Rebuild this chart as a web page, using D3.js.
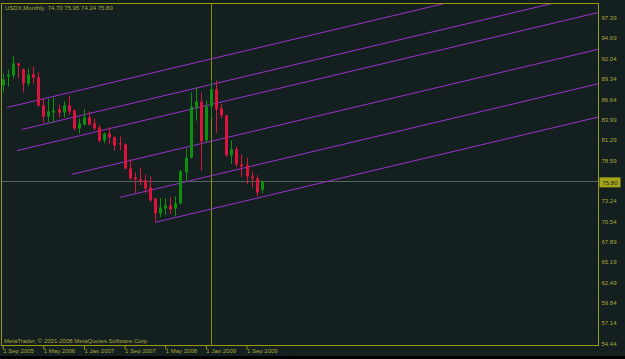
<!DOCTYPE html>
<html>
<head>
<meta charset="utf-8">
<script src="https://cdn.jsdelivr.net/npm/d3@7/dist/d3.min.js"></script>
<style>
  body { margin: 0; background: #000; }
  svg { display: block; }
  text { font-family: "Liberation Sans", Arial, sans-serif; }
</style>
</head>
<body>
<script>
// 常量
const width = 625;
const height = 359;
const plot = { left: 1.5, right: 598.5, top: 3.5, bottom: 345.5 };

// monthly bars, Sep 2005 .. Dec 2009
const open  = [88.44, 89.62, 89.75, 91.33, 90.54, 88.70, 89.88, 89.49, 85.80, 84.35, 84.88, 85.28,
               84.88, 85.80, 85.14, 82.77, 83.30, 84.22, 83.43, 82.91, 81.19, 82.11, 81.59, 80.80,
               80.67, 77.51, 76.32, 76.06, 75.93, 75.00, 73.56, 71.58, 72.24, 72.63, 72.24, 72.90,
               76.98, 78.95, 85.54, 86.33, 81.19, 85.67, 87.91, 85.41, 84.49, 79.22, 80.01, 78.03,
               77.90, 76.45, 76.19, 74.70];
const high  = [90.02, 90.54, 92.39, 91.40, 90.67, 90.67, 90.94, 90.15, 86.72, 86.72, 86.86, 85.93,
               86.33, 87.12, 85.28, 84.09, 85.28, 85.01, 84.09, 83.20, 82.25, 82.95, 81.72, 81.72,
               80.80, 78.69, 76.98, 77.64, 76.70, 76.45, 73.56, 73.60, 73.60, 73.70, 73.82, 77.30,
               80.10, 87.51, 88.20, 87.50, 86.50, 89.10, 89.10, 86.00, 84.60, 81.20, 80.40, 79.30,
               78.90, 77.10, 76.60, 75.95];
const low   = [87.51, 88.30, 89.36, 89.36, 87.51, 88.30, 88.70, 85.67, 83.56, 83.56, 83.56, 84.22,
               84.22, 84.62, 82.51, 82.11, 83.17, 83.17, 82.51, 80.93, 80.80, 80.67, 79.88, 79.88,
               77.40, 76.06, 74.30, 75.27, 74.30, 73.10, 70.50, 71.10, 71.40, 71.50, 71.20, 72.80,
               75.80, 78.80, 83.80, 77.20, 80.90, 84.10, 82.20, 84.10, 79.00, 78.10, 77.70, 76.40,
               75.40, 75.00, 73.82, 74.24];
const close = [89.23, 89.88, 91.33, 91.07, 88.70, 89.88, 89.49, 85.80, 84.35, 85.01, 85.14, 84.88,
               85.80, 85.01, 82.77, 83.43, 84.22, 83.30, 82.77, 81.19, 82.11, 81.59, 80.53, 80.67,
               77.51, 76.19, 76.06, 75.79, 74.87, 73.30, 71.58, 72.37, 72.63, 72.11, 72.90, 77.11,
               78.95, 85.67, 86.33, 81.06, 85.67, 87.91, 85.28, 84.49, 79.22, 80.01, 78.03, 77.77,
               76.45, 76.19, 74.35, 75.80];

// axis labels
const timeTickIdx = [0, 8, 16, 24, 32, 40, 48];
const timeLabels = ["1 Sep 2005", "1 May 2006", "1 Jan 2007", "1 Sep 2007", "1 May 2008", "1 Jan 2009", "1 Sep 2009"];
const priceTicks = [97.39, 94.69, 92.04, 89.34, 86.64, 83.99, 81.29, 78.59,
                    73.24, 70.54, 67.89, 65.19, 62.49, 59.84, 57.14, 54.44];

// parallel channel lines (start bar index, start price), common slope per month
const chStartIdx   = [0.85, 3.8, 2.8, 13.6, 23.1, 30];
const chStartPrice = [85.54, 82.64, 79.85, 76.72, 73.69, 70.40];
const chSlope = 0.159;
const vlineIdx = 41;          // Feb 2009
const lastPrice = 75.80;

// colors
const bg = "#141f20";
const olive = "#9a9a0c";
const textCol = "#a8a83a";
const bull = "#0d900d";
const bear = "#dc143c";
const chan = "#9932cc";

const svg = d3.select("body").append("svg")
    .attr("width", width).attr("height", height);

svg.append("rect").attr("width", width).attr("height", 356).attr("fill", bg);

// scales
const x = d3.scaleLinear().domain([0, 117.2]).range([2.7, 598]);
const y = d3.scaleLinear().domain([54.44, 97.39]).range([343.5, 17.5]);

svg.append("clipPath").attr("id", "clip")
   .append("rect")
   .attr("x", plot.left).attr("y", plot.top)
   .attr("width", plot.right - plot.left).attr("height", plot.bottom - plot.top);

const g = svg.append("g").attr("clip-path", "url(#clip)");

// current price line
g.append("line")
 .attr("x1", plot.left).attr("x2", plot.right)
 .attr("y1", Math.round(y(lastPrice)) + 0.5).attr("y2", Math.round(y(lastPrice)) + 0.5)
 .attr("stroke", "#56605f").attr("stroke-width", 1);

// vertical line
g.append("line")
 .attr("x1", Math.round(x(vlineIdx)) + 0.5).attr("x2", Math.round(x(vlineIdx)) + 0.5)
 .attr("y1", plot.top).attr("y2", plot.bottom)
 .attr("stroke", "#8c8c00").attr("stroke-width", 1);

// channel lines
const endIdx = 117.2;
g.append("g").selectAll("line").data(chStartIdx).enter().append("line")
 .attr("x1", d => x(d)).attr("y1", (d, i) => y(chStartPrice[i]))
 .attr("x2", x(endIdx)).attr("y2", (d, i) => y(chStartPrice[i] + chSlope * (endIdx - d)))
 .attr("stroke", chan).attr("stroke-width", 1);

// candles
const bars = d3.range(open.length);
const cg = g.append("g");
cg.selectAll("line.wick").data(bars).enter().append("line").attr("class", "wick")
  .attr("x1", i => Math.round(x(i)) + 0.5).attr("x2", i => Math.round(x(i)) + 0.5)
  .attr("y1", i => y(high[i])).attr("y2", i => y(low[i]))
  .attr("stroke", i => close[i] >= open[i] ? bull : bear).attr("stroke-width", 1);
cg.selectAll("rect.body").data(bars).enter().append("rect").attr("class", "body")
  .attr("x", i => Math.round(x(i)) - 1)
  .attr("width", 3)
  .attr("y", i => y(Math.max(open[i], close[i])))
  .attr("height", i => Math.max(1, Math.abs(y(open[i]) - y(close[i]))))
  .attr("fill", i => close[i] >= open[i] ? bull : bear);

// frame
svg.append("rect")
   .attr("x", plot.left).attr("y", plot.top)
   .attr("width", plot.right - plot.left).attr("height", plot.bottom - plot.top)
   .attr("fill", "none").attr("stroke", olive).attr("stroke-width", 1);

// price axis
const yAxis = svg.append("g")
   .attr("transform", `translate(${plot.right}, 0)`)
   .call(d3.axisRight(y).tickValues(priceTicks).tickSize(0).tickPadding(3).tickFormat(d3.format(".2f")));
yAxis.select(".domain").remove();
yAxis.selectAll("text").attr("fill", textCol).attr("font-size", 6)
   .attr("font-family", "Liberation Sans, Arial, sans-serif");

// last price box
const lp = svg.append("g").attr("transform", `translate(${plot.right + 1}, ${y(lastPrice) + 1})`);
lp.append("rect").attr("x", 0).attr("y", -5).attr("width", 21).attr("height", 10).attr("fill", "#a5a51c");
lp.append("text").attr("x", 3).attr("y", 2.2).attr("font-size", 6).attr("fill", bg)
  .text(d3.format(".2f")(lastPrice));

// time axis
const xAxis = svg.append("g")
   .attr("transform", `translate(0, ${plot.bottom})`)
   .call(d3.axisBottom(x).tickValues(timeTickIdx).tickSize(4).tickFormat((d, i) => timeLabels[i]));
xAxis.select(".domain").remove();
xAxis.selectAll("line").attr("stroke", olive);
xAxis.selectAll("text")
   .attr("text-anchor", "start").attr("x", 0).attr("y", 3)
   .attr("fill", textCol).attr("font-size", 6)
   .attr("font-family", "Liberation Sans, Arial, sans-serif");

// title and copyright
svg.append("text").attr("x", 5).attr("y", 9.5).attr("font-size", 6).attr("fill", textCol)
   .style("white-space", "pre")
   .text("USDX,Monthly  74.70 75.95 74.24 75.80");
svg.append("text").attr("x", 4).attr("y", 343).attr("font-size", 6).attr("fill", textCol)
   .text("MetaTrader, \u00a9 2001-2008 MetaQuotes Software Corp.");
</script>
</body>
</html>
